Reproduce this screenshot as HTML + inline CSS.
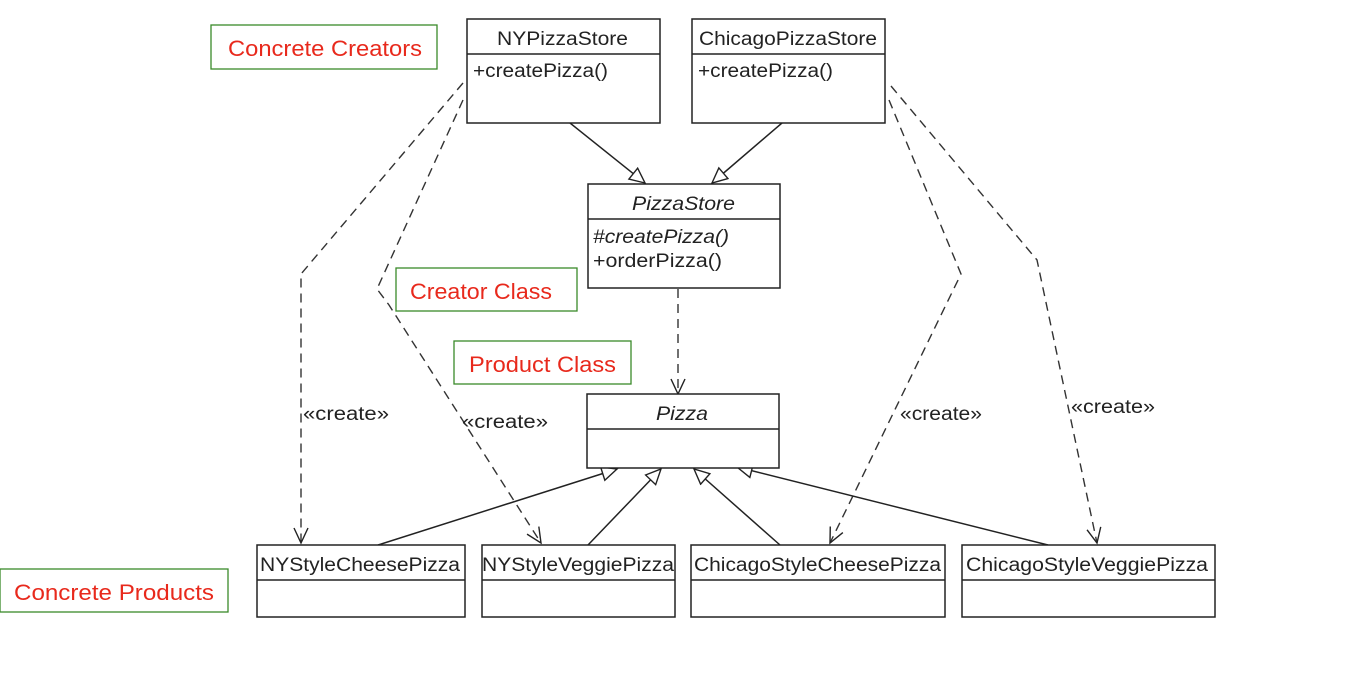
<!DOCTYPE html>
<html><head><meta charset="utf-8"><style>
html,body{margin:0;padding:0;background:#fff;width:1350px;height:678px;overflow:hidden}
svg{display:block}
.b{fill:#fff;stroke:#222;stroke-width:1.5}
.t{font-family:"Liberation Sans",sans-serif;font-size:19px;fill:#222}
.lbl{font-family:"Liberation Sans","Noto Sans CJK KR",sans-serif;font-size:22px;fill:#e8291c}
.g{fill:#fff;stroke:#3a8a2a;stroke-width:1.3}
.d{fill:none;stroke:#333;stroke-width:1.4;stroke-dasharray:9,6}
.s{fill:none;stroke:#222;stroke-width:1.5}
</style></head><body>
<svg width="1350" height="678" viewBox="0 0 1350 678">
<defs>
<marker id="tri" markerWidth="20" markerHeight="20" refX="16" refY="8" orient="auto" markerUnits="userSpaceOnUse">
<path d="M1,1 L16,8 L1,15 Z" fill="#fff" stroke="#222" stroke-width="1.4"/>
</marker>
<marker id="open" markerWidth="20" markerHeight="20" refX="16" refY="8" orient="auto" markerUnits="userSpaceOnUse">
<path d="M1,1 L16,8 L1,15" fill="none" stroke="#222" stroke-width="1.4"/>
</marker>
</defs>

<rect class="g" x="211" y="25" width="226" height="44"/><text class="lbl" x="228" y="56" textLength="194" lengthAdjust="spacingAndGlyphs">Concrete Creators</text>
<rect class="g" x="396" y="268" width="181" height="43"/><text class="lbl" x="410" y="299" textLength="142" lengthAdjust="spacingAndGlyphs">Creator Class</text>
<rect class="g" x="454" y="341" width="177" height="43"/><text class="lbl" x="469" y="372" textLength="147" lengthAdjust="spacingAndGlyphs">Product Class</text>
<rect class="g" x="0" y="569" width="228" height="43"/><text class="lbl" x="14" y="600" textLength="200" lengthAdjust="spacingAndGlyphs">Concrete Products</text>

<polyline class="d" points="463,83 301,274 301,543" marker-end="url(#open)"/>
<polyline class="d" points="463,100 377,289 389,305 541,543" marker-end="url(#open)"/>
<polyline class="d" points="678,289 678,394" marker-end="url(#open)"/>
<polyline class="d" points="889,100 961,274 830,543" marker-end="url(#open)"/>
<polyline class="d" points="891,86 1037,260 1097,543" marker-end="url(#open)"/>
<text class="t" x="303" y="420" textLength="86" lengthAdjust="spacingAndGlyphs">«create»</text>
<text class="t" x="462" y="428" textLength="86" lengthAdjust="spacingAndGlyphs">«create»</text>
<text class="t" x="900" y="420" textLength="82" lengthAdjust="spacingAndGlyphs">«create»</text>
<text class="t" x="1071" y="413" textLength="84" lengthAdjust="spacingAndGlyphs">«create»</text>

<line class="s" x1="570" y1="123" x2="645" y2="183" marker-end="url(#tri)"/>
<line class="s" x1="782" y1="123" x2="712" y2="183" marker-end="url(#tri)"/>
<line class="s" x1="378" y1="545" x2="617" y2="469" marker-end="url(#tri)"/>
<line class="s" x1="588" y1="545" x2="661" y2="469" marker-end="url(#tri)"/>
<line class="s" x1="780" y1="545" x2="694" y2="469" marker-end="url(#tri)"/>
<line class="s" x1="1048" y1="545" x2="737" y2="467" marker-end="url(#tri)"/>

<rect class="b" x="467" y="19" width="193" height="104"/><line class="s" x1="467" y1="54" x2="660" y2="54"/>
<text class="t" x="497" y="45" textLength="131" lengthAdjust="spacingAndGlyphs">NYPizzaStore</text>
<text class="t" x="473" y="77" textLength="135" lengthAdjust="spacingAndGlyphs">+createPizza()</text>

<rect class="b" x="692" y="19" width="193" height="104"/><line class="s" x1="692" y1="54" x2="885" y2="54"/>
<text class="t" x="699" y="45" textLength="178" lengthAdjust="spacingAndGlyphs">ChicagoPizzaStore</text>
<text class="t" x="698" y="77" textLength="135" lengthAdjust="spacingAndGlyphs">+createPizza()</text>

<rect class="b" x="588" y="184" width="192" height="104"/><line class="s" x1="588" y1="219" x2="780" y2="219"/>
<text class="t" x="632" y="210" font-style="italic" textLength="103" lengthAdjust="spacingAndGlyphs">PizzaStore</text>
<text class="t" x="593" y="243" font-style="italic" textLength="136" lengthAdjust="spacingAndGlyphs">#createPizza()</text>
<text class="t" x="593" y="267" textLength="129" lengthAdjust="spacingAndGlyphs">+orderPizza()</text>

<rect class="b" x="587" y="394" width="192" height="74"/><line class="s" x1="587" y1="429" x2="779" y2="429"/>
<text class="t" x="656" y="420" font-style="italic" textLength="52" lengthAdjust="spacingAndGlyphs">Pizza</text>

<rect class="b" x="257" y="545" width="208" height="72"/><line class="s" x1="257" y1="580" x2="465" y2="580"/>
<text class="t" x="260" y="571" textLength="200" lengthAdjust="spacingAndGlyphs">NYStyleCheesePizza</text>
<rect class="b" x="482" y="545" width="193" height="72"/><line class="s" x1="482" y1="580" x2="675" y2="580"/>
<text class="t" x="482" y="571" textLength="192" lengthAdjust="spacingAndGlyphs">NYStyleVeggiePizza</text>
<rect class="b" x="691" y="545" width="254" height="72"/><line class="s" x1="691" y1="580" x2="945" y2="580"/>
<text class="t" x="694" y="571" textLength="247" lengthAdjust="spacingAndGlyphs">ChicagoStyleCheesePizza</text>
<rect class="b" x="962" y="545" width="253" height="72"/><line class="s" x1="962" y1="580" x2="1215" y2="580"/>
<text class="t" x="966" y="571" textLength="242" lengthAdjust="spacingAndGlyphs">ChicagoStyleVeggiePizza</text>
</svg>
</body></html>
